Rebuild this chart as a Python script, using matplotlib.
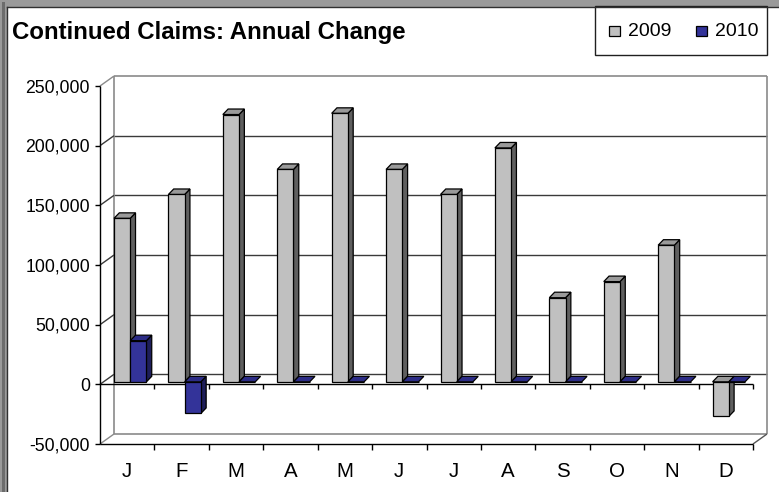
import matplotlib
matplotlib.use('Agg')
import matplotlib.pyplot as plt
from matplotlib.patches import Polygon, Rectangle
from matplotlib.lines import Line2D

# ---------------- data ----------------
months = ['J', 'F', 'M', 'A', 'M', 'J', 'J', 'A', 'S', 'O', 'N', 'D']
claims_2009 = [137000, 157000, 224000, 178000, 225000, 178000,
               157000, 196000, 70500, 84000, 114500, -29000]
claims_2010 = [34500, -26500, 0, 0, 0, 0, 0, 0, 0, 0, 0, 0]
series_names = ['2009', '2010']
yticks = [-50000, 0, 50000, 100000, 150000, 200000, 250000]
ytick_labels = ['-50,000', '0', '50,000', '100,000', '150,000', '200,000', '250,000']
title = 'Continued Claims: Annual Change'

FONT = ['Liberation Sans', 'DejaVu Sans']
plt.rcParams['font.family'] = FONT

W, H = 779, 492
fig = plt.figure(figsize=(W / 100, H / 100), dpi=100)
fig.patch.set_facecolor('white')

def fx(px):
    return px / W

def fy(py):
    return 1 - py / H

# ---------------- outer frame ----------------
fig.add_artist(Rectangle((0, fy(6.5)), 1, 6.5 / H, transform=fig.transFigure,
                         facecolor='#9a9a9a', edgecolor='none', zorder=0))
fig.add_artist(Rectangle((0, 0), fx(6.5), 1, transform=fig.transFigure,
                         facecolor='#9a9a9a', edgecolor='none', zorder=0))
fig.add_artist(Rectangle((fx(2), 0), fx(2.5), 1 - 2 / H, transform=fig.transFigure,
                         facecolor='#6c6c6c', edgecolor='none', zorder=0))
fig.add_artist(Line2D([fx(6.5), 1], [fy(6.5), fy(6.5)], transform=fig.transFigure,
                      color='#303030', lw=1.0))
fig.add_artist(Line2D([fx(6.5), fx(6.5)], [0, fy(6.5)], transform=fig.transFigure,
                      color='#303030', lw=1.0))

# ---------------- axes (front plane) ----------------
AX_L, AX_R, AX_T, AX_B = 100, 753, 86, 444
ax = fig.add_axes([fx(AX_L), fy(AX_B), (AX_R - AX_L) / W, (AX_B - AX_T) / H])
ax.set_xlim(0, 12)
ax.set_ylim(-50000, 250000)
ax.axis('off')

sx = 12 / (AX_R - AX_L)          # data units per pixel (x)
sy = 300000 / (AX_B - AX_T)      # data units per pixel (y)
YMIN, YMAX = -50000, 250000
NCAT = len(months)

# wall depth offset
WDX, WDY = 14 * sx, 10 * sy
GRID = '#3a3a3a'
BORDER = '#8a8a8a'

def line(xs, ys, color, lw=1.0, z=1):
    ax.add_line(Line2D(xs, ys, color=color, lw=lw, zorder=z, clip_on=False,
                       solid_capstyle='butt'))

# back wall gridlines
for t in yticks:
    if t in (YMIN, YMAX):
        continue
    line([WDX, NCAT + WDX], [t + WDY, t + WDY], GRID, 1.0)
# back wall borders
line([WDX, NCAT + WDX], [YMAX + WDY, YMAX + WDY], BORDER, 1.2)
line([WDX, NCAT + WDX], [YMIN + WDY, YMIN + WDY], BORDER, 1.2)
line([WDX, WDX], [YMIN + WDY, YMAX + WDY], BORDER, 1.2)
line([NCAT + WDX, NCAT + WDX], [YMIN + WDY, YMAX + WDY], BORDER, 1.2)
# left wall diagonals
for t in yticks:
    c = BORDER if t in (YMIN, YMAX) else GRID
    line([0, WDX], [t, t + WDY], c, 1.0)
# floor right diagonal
line([NCAT, NCAT + WDX], [YMIN, YMIN + WDY], '#555555', 1.0)

# front axes lines
line([0, 0], [YMIN, YMAX], 'black', 1.0, 2)
line([0, NCAT], [0, 0], 'black', 1.0, 2)
line([0, NCAT], [YMIN, YMIN], 'black', 1.0, 2)
for t in yticks:
    line([-5 * sx, 0], [t, t], 'black', 1.0, 2)
for i in range(1, NCAT + 1):
    line([i, i], [0, -5 * sy], 'black', 1.0, 2)
    line([i, i], [YMIN, YMIN - 6 * sy], 'black', 1.0, 2)

# tick labels
for t, lab in zip(yticks, ytick_labels):
    ax.text(-10 * sx, t - 6.2 * sy, lab, ha='right', va='baseline',
            fontsize=12.7, color='black', clip_on=False)
for i, m in enumerate(months):
    ax.text(i + 0.5, YMIN - 33.3 * sy, m, ha='center', va='baseline',
            fontsize=14.8, color='black', clip_on=False)

# ---------------- 3D bars ----------------
BDX, BDY = 3.5 * sx, 2.5 * sy     # bar plane offset
DDX, DDY = 5.3 * sx, 5.5 * sy     # bar depth
BW = 0.298
offsets = [0.193, 0.491]
colors = [
    dict(front='#C0C0C0', top='#9a9a9a', side='#5f5f5f'),
    dict(front='#333399', top='#2c2c86', side='#1e1e5a'),
]
series = [claims_2009, claims_2010]

for s, (vals, off, col) in enumerate(zip(series, offsets, colors)):
    z = 3 + s
    lefts = [i + off + BDX for i in range(NCAT)]
    ax.bar(lefts, vals, width=BW, bottom=BDY, align='edge',
           facecolor=col['front'], edgecolor='black', linewidth=0.9,
           zorder=z + 0.2, clip_on=False)
    for x0, v in zip(lefts, vals):
        x1 = x0 + BW
        lo = min(0, v) + BDY
        hi = max(0, v) + BDY
        top = Polygon([(x0, hi), (x1, hi), (x1 + DDX, hi + DDY), (x0 + DDX, hi + DDY)],
                      closed=True, facecolor=col['top'], edgecolor='black',
                      linewidth=0.9, zorder=z + 0.1, clip_on=False)
        ax.add_patch(top)
        if hi > lo:
            side = Polygon([(x1, lo), (x1, hi), (x1 + DDX, hi + DDY), (x1 + DDX, lo + DDY)],
                           closed=True, facecolor=col['side'], edgecolor='black',
                           linewidth=0.9, zorder=z, clip_on=False)
            ax.add_patch(side)

# ---------------- title ----------------
fig.text(fx(12), fy(39.5), title, ha='left', va='baseline',
         fontsize=17.3, fontweight='bold', color='black')

# ---------------- legend ----------------
fig.add_artist(Rectangle((fx(595), fy(55)), (767 - 595) / W, (55 - 6.5) / H,
                         transform=fig.transFigure, facecolor='white',
                         edgecolor='#202020', linewidth=1.0, zorder=1))
leg_x = [608.5, 695.5]
for name, lx, col in zip(series_names, leg_x, colors):
    fig.add_artist(Rectangle((fx(lx), fy(36)), 11 / W, 10 / H,
                             transform=fig.transFigure, facecolor=col['front'],
                             edgecolor='black', linewidth=0.9, zorder=2))
    fig.text(fx(lx + 19.5), fy(36), name, ha='left', va='baseline',
             fontsize=14, color='black', zorder=3)

fig.savefig('out.png', dpi=100, facecolor='white')
